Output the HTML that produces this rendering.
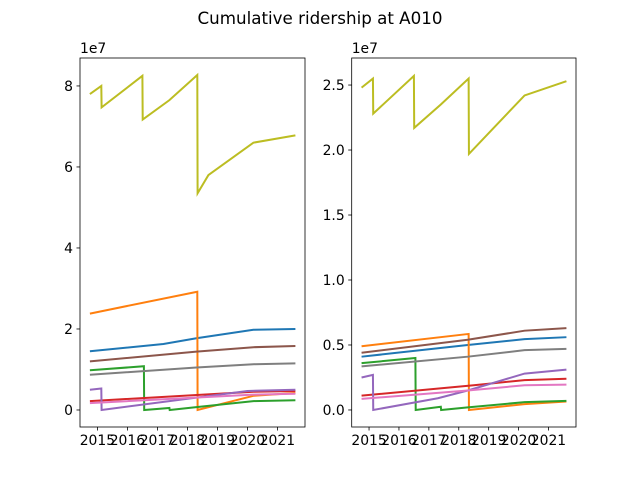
<!DOCTYPE html>
<html><head><meta charset="utf-8"><style>
body{margin:0;background:#fff}
svg{font-family:"DejaVu Sans","Liberation Sans",sans-serif}
</style></head><body>
<svg id="c" width="640" height="480"></svg>
<script>
const years=[2015,2016,2017,2018,2019,2020,2021];
const colors=["#1f77b4","#ff7f0e","#2ca02c","#d62728","#9467bd","#8c564b","#e377c2","#7f7f7f","#bcbd22"];
const seriesNames=["blue","orange","green","red","purple","brown","pink","gray","olive"];
const leftTicks=[0,2,4,6,8];
const rightTicks=[0,0.5,1.0,1.5,2.0,2.5];
const leftData=[
[[2014.75,1.45],[2017.2,1.63],[2018.3,1.77],[2020.2,1.98],[2021.6,2.0]],
[[2014.75,2.38],[2018.33,2.92],[2018.34,0],[2020.2,0.35],[2021.6,0.42]],
[[2014.75,0.98],[2016.55,1.08],[2016.56,0],[2017.4,0.05],[2017.41,0],[2018.3,0.07],[2020.2,0.22],[2021.6,0.24]],
[[2014.75,0.22],[2020.2,0.45],[2021.6,0.47]],
[[2014.75,0.5],[2015.13,0.53],[2015.14,0],[2020.0,0.47],[2021.6,0.5]],
[[2014.75,1.2],[2018.3,1.44],[2020.2,1.55],[2021.6,1.58]],
[[2014.75,0.17],[2020.2,0.38],[2021.6,0.4]],
[[2014.75,0.87],[2018.3,1.05],[2020.2,1.13],[2021.6,1.15]],
[[2014.75,7.8],[2015.13,8.0],[2015.14,7.47],[2016.5,8.25],[2016.51,7.17],[2017.4,7.65],[2018.33,8.27],[2018.34,5.35],[2018.7,5.8],[2020.2,6.6],[2021.6,6.78]]
];
const rightData=[
[[2014.75,0.41],[2018.3,0.5],[2020.2,0.545],[2021.6,0.56]],
[[2014.75,0.49],[2018.33,0.585],[2018.34,0],[2020.2,0.045],[2021.6,0.065]],
[[2014.75,0.36],[2016.55,0.4],[2016.56,0],[2017.4,0.025],[2017.41,0],[2018.3,0.02],[2020.2,0.06],[2021.6,0.07]],
[[2014.75,0.11],[2018.5,0.19],[2020.2,0.23],[2021.6,0.24]],
[[2014.75,0.25],[2015.13,0.27],[2015.14,0],[2017.3,0.09],[2018.3,0.15],[2020.2,0.28],[2021.6,0.31]],
[[2014.75,0.44],[2018.3,0.54],[2020.2,0.61],[2021.6,0.63]],
[[2014.75,0.085],[2018.3,0.15],[2020.2,0.19],[2021.6,0.195]],
[[2014.75,0.335],[2018.3,0.41],[2020.2,0.46],[2021.6,0.47]],
[[2014.75,2.48],[2015.13,2.55],[2015.14,2.28],[2016.5,2.57],[2016.51,2.17],[2017.4,2.35],[2018.33,2.55],[2018.34,1.97],[2020.2,2.42],[2021.6,2.53]]
];
const svg=document.getElementById('c');
const NS="http://www.w3.org/2000/svg";
function mk(t,a,p){const e=document.createElementNS(NS,t);for(const k in a)e.setAttribute(k,a[k]);(p||svg).appendChild(e);return e;}
const title=mk('text',{x:320,y:24,'text-anchor':'middle','font-size':16.7});
title.textContent='Cumulative ridership at A010';


function panel(name,x0,x1,y0,y1,ymin,ymax,ticks,fmt,data){
  const g=mk('g',{});
  
  
  const xmin=2014.42,xmax=2021.92;
  const X=v=>x0+(v-xmin)/(xmax-xmin)*(x1-x0);
  const Y=v=>y1-(v-ymin)/(ymax-ymin)*(y1-y0);
  data.forEach((s,i)=>{
    const pl=mk('polyline',{points:s.map(p=>X(p[0])+','+Y(p[1])).join(' '),fill:'none',stroke:colors[i],'stroke-width':2},g);
    
    
  });
  mk('rect',{x:x0,y:y0,width:x1-x0,height:y1-y0,fill:'none',stroke:'#000','stroke-width':0.8},g);
  years.forEach(yr=>{
    const x=X(yr);
    mk('line',{x1:x,x2:x,y1:y1,y2:y1+3.5,stroke:'#000','stroke-width':0.8},g);
    const t=mk('text',{x:x,y:y1+18,'text-anchor':'middle','font-size':13.9},g);
    t.textContent=yr;
    
    
  });
  ticks.forEach(v=>{
    const y=Y(v);
    mk('line',{x1:x0,x2:x0-3.5,y1:y,y2:y,stroke:'#000','stroke-width':0.8},g);
    const t=mk('text',{x:x0-7,y:y+5,'text-anchor':'end','font-size':13.9},g);
    t.textContent=fmt(v);
    
    
  });
  const o=mk('text',{x:x0,y:y0-5,'font-size':13.9},g);
  o.textContent='1e7';
  
  
}
panel('left-panel',80,305,58,427,-0.42,8.69,leftTicks,v=>String(v),leftData);
panel('right-panel',351.7,576,58,427,-0.131,2.708,rightTicks,v=>v.toFixed(1),rightData);
</script>
</body></html>
